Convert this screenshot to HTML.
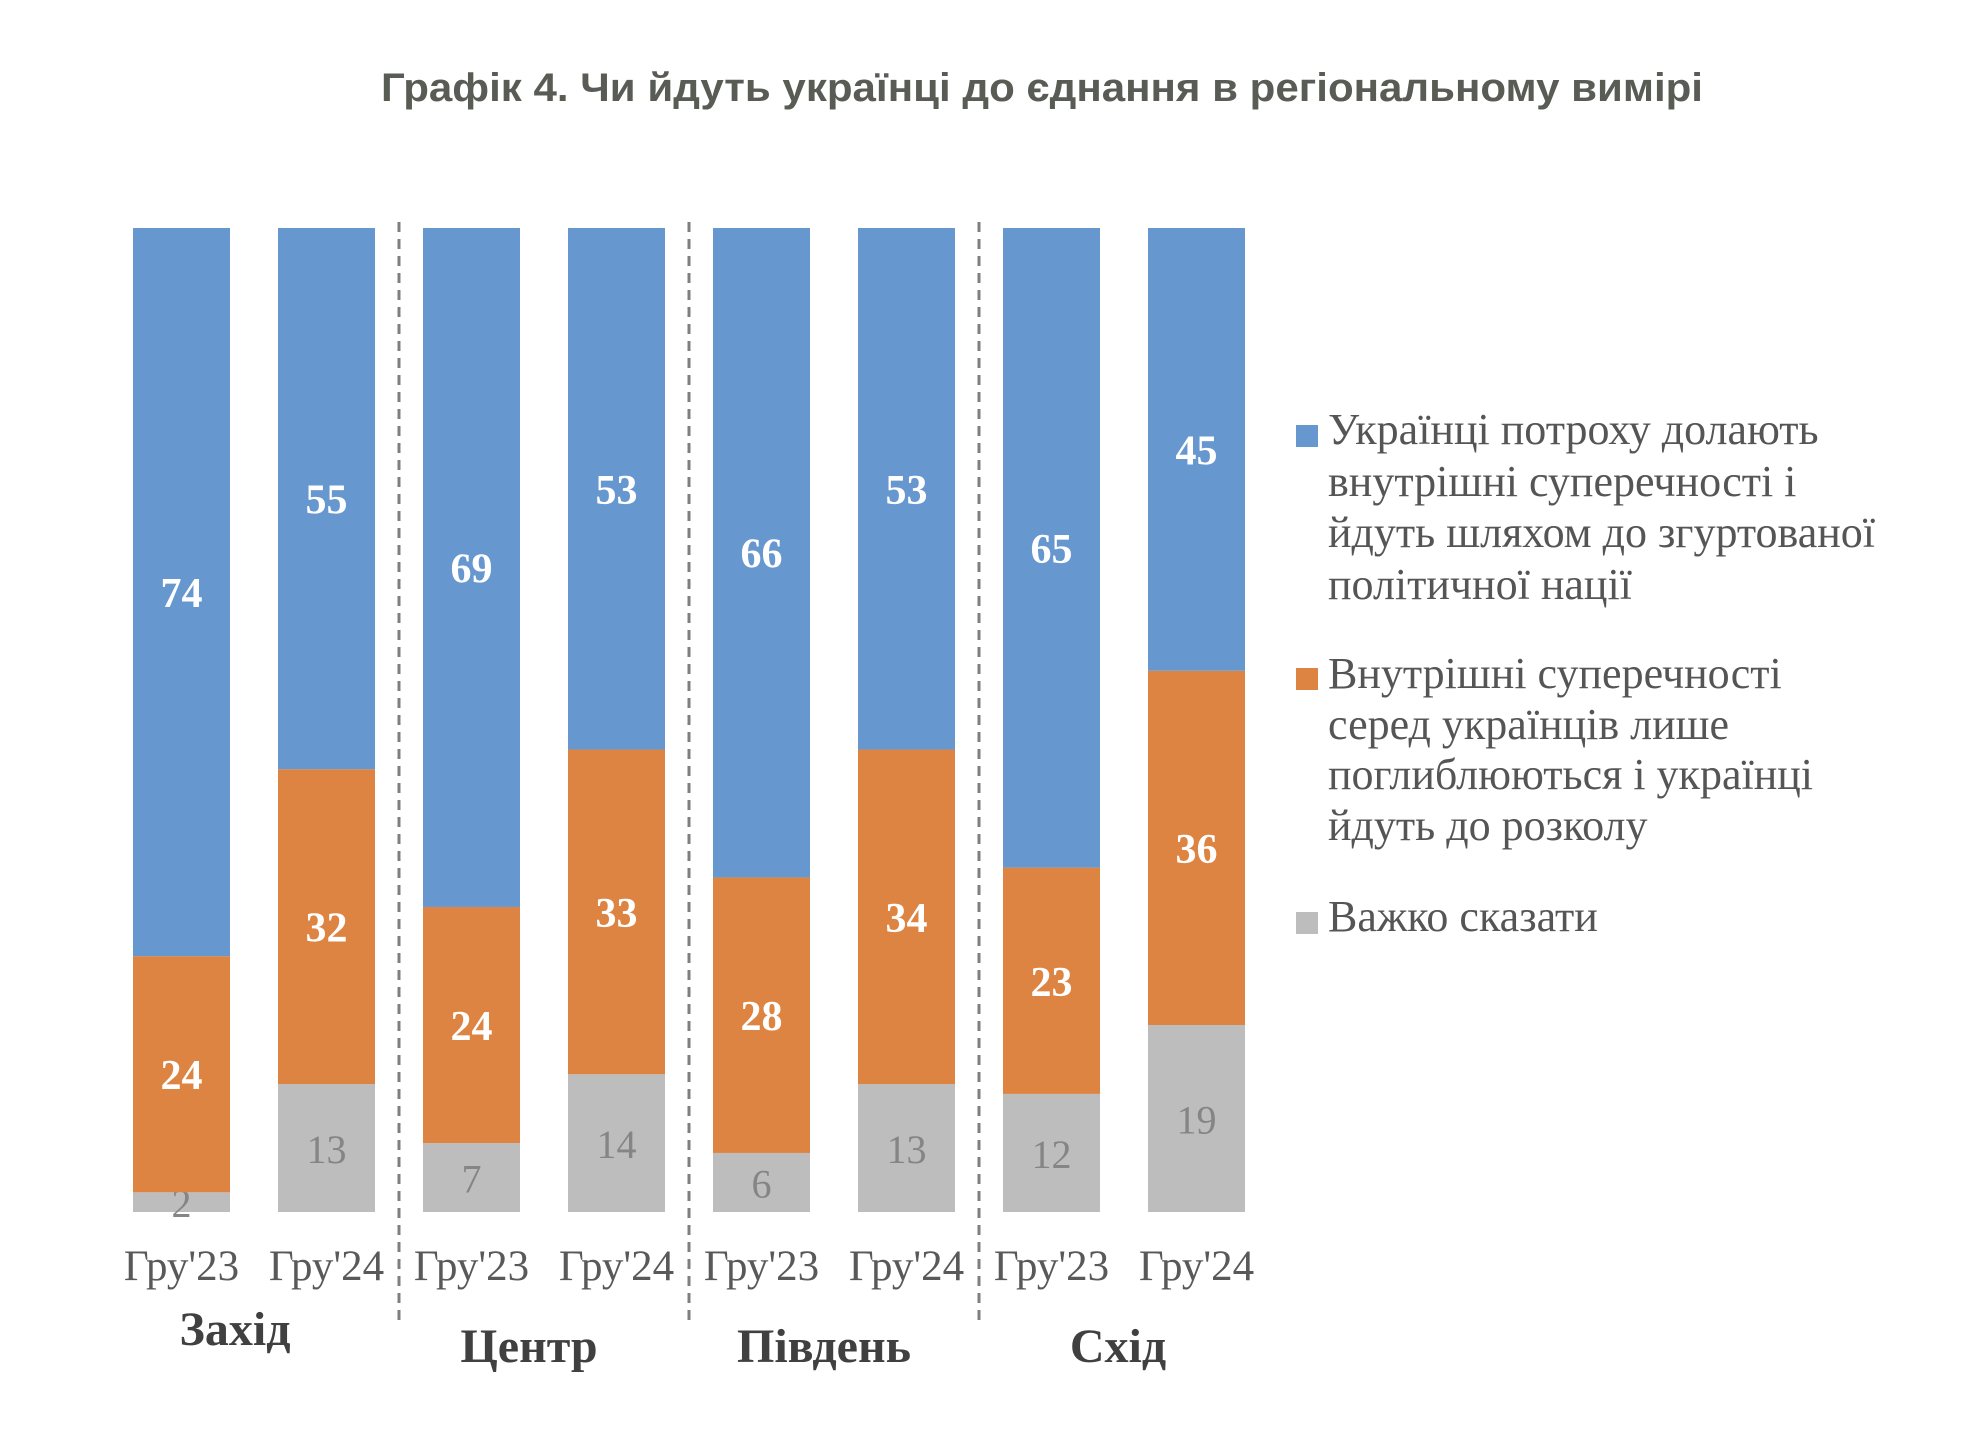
<!DOCTYPE html>
<html><head><meta charset="utf-8"><style>
html,body{margin:0;padding:0;background:#fff;}
svg{display:block;}
</style></head><body>
<svg id="chart" width="1968" height="1449" viewBox="0 0 1968 1449" xmlns="http://www.w3.org/2000/svg">
<rect width="1968" height="1449" fill="#fff"/>
<text x="381" y="101" font-family="Liberation Sans, sans-serif" font-weight="bold" font-size="40" fill="#595c55" textLength="1322" lengthAdjust="spacingAndGlyphs">Графік 4. Чи йдуть українці до єднання в регіональному вимірі</text>
<g id="bars"></g>
<g id="legend" font-family="Liberation Serif, serif" font-size="44" fill="#555">
<rect x="1296" y="425" width="22" height="22" fill="#6797cf"/>
<text><tspan x="1328" y="444">Українці потроху долають</tspan><tspan x="1328" y="496">внутрішні суперечності і</tspan><tspan x="1328" y="547">йдуть шляхом до згуртованої</tspan><tspan x="1328" y="599">політичної нації</tspan></text>
<rect x="1296" y="668" width="22" height="22" fill="#de8442"/>
<text><tspan x="1328" y="688">Внутрішні суперечності</tspan><tspan x="1328" y="739">серед українців лише</tspan><tspan x="1328" y="789">поглиблюються і українці</tspan><tspan x="1328" y="840">йдуть до розколу</tspan></text>
<rect x="1296" y="912" width="22" height="22" fill="#bdbdbd"/>
<text x="1328" y="931">Важко сказати</text>
</g>
</svg>
<script>
const categories = ["Гру'23","Гру'24","Гру'23","Гру'24","Гру'23","Гру'24","Гру'23","Гру'24"];
const regions = ["Захід","Центр","Південь","Схід"];
const unite = [74,55,69,53,66,53,65,45];
const split = [24,32,24,33,28,34,23,36];
const unsure = [2,13,7,14,6,13,12,19];

const NS = "http://www.w3.org/2000/svg";
const g = document.getElementById('bars');
const top0 = 228, bottom0 = 1212, left0 = 133, pitch = 145, bw = 97;
function xPos(i){ return left0 + i*pitch; }
function yScale(v, total){ return v/total*(bottom0-top0); }
function mk(tag, attrs){ const e=document.createElementNS(NS,tag); for(const k in attrs) e.setAttribute(k,attrs[k]); g.appendChild(e); return e; }

const series = [
  {vals: unsure, color:'#bdbdbd', txt:'#858585', bold:false, name:'unsure'},
  {vals: split, color:'#de8442', txt:'#fff', bold:true, name:'split'},
  {vals: unite, color:'#6797cf', txt:'#fff', bold:true, name:'unite'}
];
for(let i=0;i<categories.length;i++){
  const total = unite[i]+split[i]+unsure[i];
  let y = bottom0;
  const x = xPos(i);
  for(const s of series){
    const h = yScale(s.vals[i], total);
    const r = mk('rect',{x:x,y:y-h,width:bw,height:h,fill:s.color});
    
    
    const t = mk('text',{x:x+bw/2,y:y-h/2+15,'text-anchor':'middle','font-family':'Liberation Serif, serif','font-size':s.bold?42:40,'font-weight':s.bold?'bold':'normal',fill:s.txt});
    
    
    t.textContent = s.vals[i];
    y -= h;
  }
  const c = mk('text',{x:x+bw/2,y:1280,'text-anchor':'middle','font-family':'Liberation Serif, serif','font-size':43,fill:'#595959'});
  
  
  c.textContent = categories[i];
}
const regionX = [235,529,824,1118];
const regionY = [1345,1362,1362,1362];
for(let r=0;r<regions.length;r++){
  const t = mk('text',{x:regionX[r],y:regionY[r],'text-anchor':'middle','font-family':'Liberation Serif, serif','font-size':48,'font-weight':'bold',fill:'#404040'});
  
  
  t.textContent = regions[r];
}
for(let d=1; d<regions.length; d++){
  const x = (xPos(2*d-1)+bw + xPos(2*d))/2;
  const l = mk('line',{x1:x,y1:222,x2:x,y2:1327,stroke:'#7f7f7f','stroke-width':3,'stroke-dasharray':'10 7'});
  
  
}
</script>
</body></html>
